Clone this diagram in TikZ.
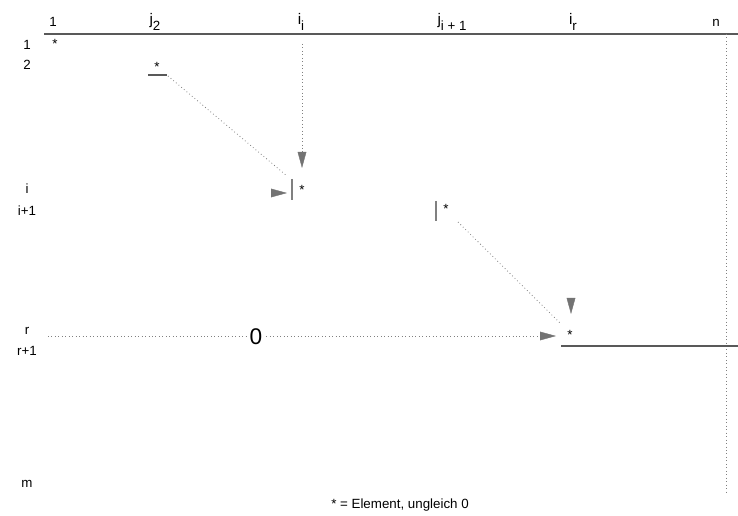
\documentclass[tikz,border=0pt]{standalone}
\usepackage{fontspec}
\setmainfont{Liberation Sans}
\usetikzlibrary{arrows.meta}
\newcommand{\mysub}[1]{\raisebox{-0.7ex}{\fontsize{10pt}{10pt}\selectfont #1}}
\begin{document}
\begin{tikzpicture}[x=0.75pt,y=-0.75pt,
  lbl/.style={inner sep=0pt,font=\fontsize{10pt}{11pt}\selectfont},
  clbl/.style={inner sep=0pt,font=\fontsize{11.5pt}{12pt}\selectfont},
  star/.style={inner sep=0pt,font=\fontsize{10pt}{11pt}\selectfont},
  dotline/.style={draw=gray,dotted,line width=0.6pt},
  solidline/.style={draw=black!65,line width=0.8pt},
  bar/.style={draw=gray,line width=0.9pt},
  tip/.style={draw=black!55,line width=0.3pt,-{Triangle[length=12pt,width=6.5pt,fill=black!55,color=black!55]}}]
\useasboundingbox (0,0) rectangle (738,516);
% column labels
\node[lbl] (c1) at (53,22) {1};
\node[clbl,anchor=base] (cj2) at (155,25) {j\mysub{2}};
\node[clbl,anchor=base] (cji) at (301,25) {i\mysub{i}};
\node[clbl,anchor=base] (cji1) at (452,25) {j\mysub{i + 1}};
\node[clbl,anchor=base] (cjr) at (573,25) {i\mysub{r}};
\node[lbl] (cn) at (716,23) {n};
% row labels
\node[lbl] (r1) at (27,45) {1};
\node[lbl] (r2) at (27,65) {2};
\node[lbl] (ri) at (27,189) {i};
\node[lbl] (ri1) at (27,211) {i+1};
\node[lbl] (rr) at (27,331) {r};
\node[lbl] (rr1) at (27,351) {r+1};
\node[lbl] (rm) at (27,484) {m};
% top line and right dotted line
\coordinate (tl) at (44,34);
\coordinate (tr) at (738,34);
\draw[solidline] (tl) -- (tr);
\coordinate (nt) at (726,34);
\coordinate (nb) at (726,492);
\draw[dotline] (nt) -- (nb);
% elements
\node[star] (s1) at (55,44) {*};
\node[star] (s2) at (157,67) {*};
\coordinate (b2a) at (148,75);
\coordinate (b2b) at (167,75);
\draw[solidline] (b2a) -- (b2b);
\coordinate (bia) at (292,179);
\coordinate (bib) at (292,200);
\draw[bar] (bia) -- (bib);
\node[star] (si) at (302,190) {*};
\coordinate (bja) at (436,201);
\coordinate (bjb) at (436,221);
\draw[bar] (bja) -- (bjb);
\node[star] (sj) at (446,209) {*};
\node[star] (sr) at (570,335) {*};
\coordinate (rla) at (561,346);
\coordinate (rlb) at (738,346);
\draw[solidline] (rla) -- (rlb);
% dotted diagonals
\coordinate (d1a) at (168,76);
\coordinate (d1b) at (287,176);
\draw[dotline] (d1a) -- (d1b);
\coordinate (d2a) at (458,222);
\coordinate (d2b) at (560,323);
\draw[dotline] (d2a) -- (d2b);
% arrows
\coordinate (va) at (302,44);
\coordinate (vb) at (302,168);
\draw[dotline] (va) -- (302,153);
\draw[tip] (302,152) -- (vb);
\coordinate (ha) at (271,193);
\coordinate (hb) at (287,193);
\draw[tip] (ha) -- (hb);
\coordinate (ra) at (571,298);
\coordinate (rb) at (571,314);
\draw[tip] (ra) -- (rb);
\coordinate (za) at (48,336);
\coordinate (zb) at (556,336);
\draw[dotline] (za) -- (541,336);
\draw[tip] (540,336) -- (zb);
\node[inner sep=1pt,font=\fontsize{17pt}{19pt}\selectfont,fill=white] (zero) at (256,337) {0};
% caption
\node[lbl] (cap) at (400,505) {* = Element, ungleich 0};
\end{tikzpicture}
\end{document}
